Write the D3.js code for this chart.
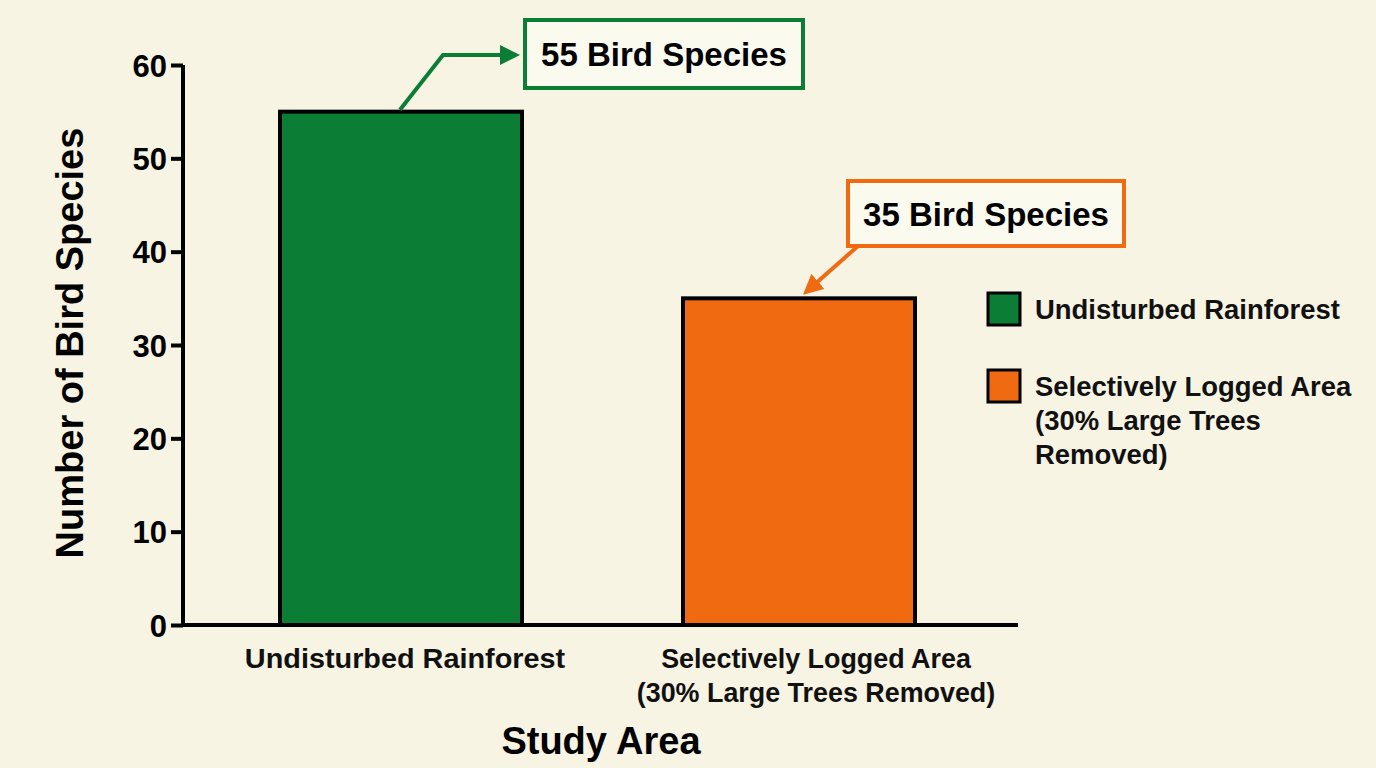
<!DOCTYPE html>
<html><head><meta charset="utf-8">
<script src="https://cdn.jsdelivr.net/npm/d3@7"></script>
<style>body{margin:0;background:#f7f4e4;}svg{display:block;font-family:"Liberation Sans",Arial,sans-serif;}</style>
</head><body><svg width="1376" height="768"></svg>
<script>
const categories = ["Undisturbed Rainforest", "Selectively Logged Area\n(30% Large Trees Removed)"];
const values = [55, 35];
const colors = ["#0b7d35", "#f06a12"];
const annoText = ["55 Bird Species", "35 Bird Species"];
const legendLabels = [["Undisturbed Rainforest"], ["Selectively Logged Area", "(30% Large Trees", "Removed)"]];
const yTicks = [0,10,20,30,40,50,60];

const svg = d3.select("svg");
const y = d3.scaleLinear().domain([0,60]).range([625,65]);
const xPos = [[280,522],[683,915]];

const ya = svg.append("g").attr("transform","translate(183,0)").call(d3.axisLeft(y).tickValues(yTicks).tickSize(12).tickFormat(d3.format("d")));
ya.select(".domain").attr("stroke","#000").attr("stroke-width",4).attr("d","M0,65V627");
ya.selectAll(".tick line").attr("stroke","#000").attr("stroke-width",4);
ya.selectAll(".tick text").attr("font-size",31).attr("font-weight","bold").attr("fill","#000").attr("x",-16).attr("dy","0.36em");
svg.append("line").attr("x1",181).attr("x2",1018).attr("y1",625).attr("y2",625).attr("stroke","#000").attr("stroke-width",4);

svg.selectAll("rect.bar").data(values).join("rect")
  .attr("x",(d,i)=>xPos[i][0]).attr("width",(d,i)=>xPos[i][1]-xPos[i][0])
  .attr("y",d=>y(d)).attr("height",d=>y(0)-y(d))
  .attr("fill",(d,i)=>colors[i]).attr("stroke","#000").attr("stroke-width",4);

const catScale=[1.03,0.96];
categories.forEach((c,i)=>{
  const t = svg.append("text").attr("text-anchor","middle").attr("font-size",28).attr("font-weight","bold").attr("fill","#111")
    .attr("transform","translate("+((xPos[i][0]+xPos[i][1])/2+(i?17:4))+",668) scale("+catScale[i]+",1)");
  c.split("\n").forEach((l,j)=>t.append("tspan").attr("x",0).attr("dy",j?34:0).text(l));
});

svg.append("text").attr("x",601).attr("y",754).attr("text-anchor","middle").attr("font-size",38).attr("font-weight","bold").text("Study Area");
svg.append("text").attr("transform","translate(83,343) rotate(-90)").attr("text-anchor","middle").attr("font-size",38).attr("font-weight","bold").text("Number of Bird Species");

const defs = svg.append("defs");
colors.forEach((c,i)=>defs.append("marker").attr("id","m"+i).attr("viewBox","0 0 10 10").attr("refX",8).attr("refY",5)
  .attr("markerWidth",5).attr("markerHeight",5).attr("orient","auto").append("path").attr("d","M0,0L10,5L0,10z").attr("fill",c));
const boxes = [[525,20,278,68],[848,181,276,65]];
boxes.forEach((b,i)=>{
  svg.append("rect").attr("x",b[0]).attr("y",b[1]).attr("width",b[2]).attr("height",b[3]).attr("fill","#fbfaef").attr("stroke",colors[i]).attr("stroke-width",4);
  svg.append("text").attr("x",b[0]+b[2]/2).attr("y",b[1]+b[3]/2+12).attr("text-anchor","middle").attr("font-size",33).attr("font-weight","bold").text(annoText[i]);
});
svg.append("path").attr("d","M400,"+(y(values[0])-2)+"L443,55L516,55").attr("fill","none").attr("stroke",colors[0]).attr("stroke-width",4).attr("marker-end","url(#m0)");
svg.append("path").attr("d","M858,246L806,292").attr("fill","none").attr("stroke",colors[1]).attr("stroke-width",4).attr("marker-end","url(#m1)");

const ly=[293,370];
legendLabels.forEach((ls,i)=>{
  svg.append("rect").attr("x",988).attr("y",ly[i]).attr("width",32).attr("height",32).attr("fill",colors[i]).attr("stroke","#000").attr("stroke-width",3);
  const t=svg.append("text").attr("font-size",28).attr("font-weight","bold").attr("fill","#111").attr("transform","translate(1035,"+(ly[i]+26)+") scale(0.98,1)");
  ls.forEach((l,j)=>t.append("tspan").attr("x",0).attr("dy",j?34:0).text(l));
});
</script></body></html>
